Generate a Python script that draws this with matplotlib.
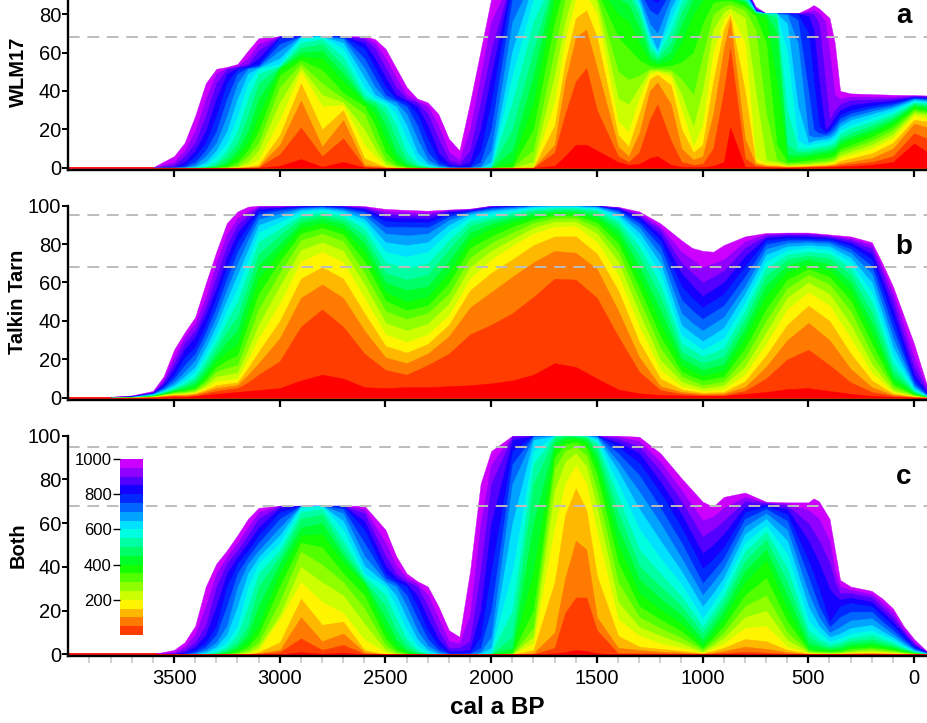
import numpy as np
import matplotlib
matplotlib.use("Agg")
import matplotlib.pyplot as plt
import colorsys

plt.rcParams['font.family'] = ['Liberation Sans', 'DejaVu Sans']

# ---------------- data ----------------
window_lengths = [0, 50, 100, 150, 200, 250, 300, 350, 400, 450, 500,
                  550, 600, 650, 700, 750, 800, 850, 900, 950, 1000]
colorbar_ticks = [200, 400, 600, 800, 1000]
x_ticks = [3500, 3000, 2500, 2000, 1500, 1000, 500, 0]
x_minor = list(range(3900, -1, -100))
y_ticks = [0, 20, 40, 60, 80, 100]
reference_lines = [68, 95]
panel_names = ["WLM17", "Talkin Tarn", "Both"]
panel_letters = ["a", "b", "c"]

# each column: probability (%) for window lengths 0..1000 a (bottom -> top)
wlm17_years = [3600, 3500, 3450, 3400, 3350, 3300, 3250, 3200, 3150, 3100, 3000, 2900,
               2800, 2700, 2600, 2550, 2500, 2450, 2400, 2350, 2300, 2250, 2200, 2150,
               2100, 2050, 2000, 1900, 1800, 1700, 1650, 1600, 1550, 1500, 1400, 1350,
               1300, 1250, 1214, 1150, 1100, 1044, 1000, 950, 900, 870, 800, 750, 700,
               650, 600, 550, 500, 475, 450, 420, 400, 375, 350, 300, 200, 100, 0, -65]
wlm17_cols = [
    [0,0,0,0,0,0,0,0,0,0,0,0,0,0,0,0,0,0,0,0,0.2],
    [0,0,0,0,0,0,0,0,0,0,0,0,0,0,0,0,0.2,0.5,1.5,3,6],
    [0,0,0,0,0,0,0,0,0,0,0,0,0,0,0.2,0.5,1.5,3,6,9,13],
    [0,0,0,0,0,0,0,0,0,0,0,0,0.2,0.5,1.5,3,6,9,13,19,27],
    [0,0,0,0,0,0,0,0,0,0,0.2,0.5,1.5,3,6,9,13,19,27,36,44],
    [0,0,0,0,0,0,0,0,0.2,0.5,1.5,3,6,9,13,19,27,36,44,49,51.5],
    [0,0,0,0,0,0,0.2,0.5,1.5,3,6,9,13,19,27,36,44,49,51.5,52,52.5],
    [0,0,0,0,0.2,0.5,1.5,3,6,9,13,19,27,36,44,49,51.5,52,52.5,53,54],
    [0,0,0.2,0.5,1.5,3,6,9,13,19,27,36,44,49,51.5,52,52.5,53,54,57,61],
    [0,0.2,0.5,1.5,4,9,13,19,27,36,44,49,51.5,52,52.5,53,54,57,61,64.5,67.5],
    [1,7,12,17,25,34,42,48,51.5,52,52.5,53,54,57,61,64.5,67.5,68.3,68.5,68.5,68.5],
    [4.5,21,35,44,50,52,54,56,58,60,62.5,65,67.5,68.3,68.5,68.5,68.5,68.5,68.5,68.5,68.5],
    [0.5,6,11,20,32,38,44,51,57,61,64.5,67,68.3,68.5,68.5,68.5,68.5,68.5,68.5,68.5,68.5],
    [3,15.3,24.8,30,32.6,34,36,39,45,49,53,57.5,62,65,67,68,68.5,68.5,68.5,68.5,68.5],
    [0.2,0.5,1.5,5,12,20,28,32,34,35,36,38,42,47,52,57,62,65,67,68,68.5],
    [0,0.3,1,2.5,6,10,15,22,28,32,34,35,36,38,42,47,52,57,62,65,67],
    [0,0,0,0.5,1,2,4,8,15,22,28,32,34,35,36,38,42,47,52,57,62],
    [0,0,0,0,0,0.5,1,2,4,8,15,22,28,32,34,35,36,38,42,47,52],
    [0,0,0,0,0,0,0,0.5,1,2,4,8,15,22,28,32,34,35,36,38,42],
    [0,0,0,0,0,0,0,0,0,0.5,1,2,4,8,15,22,28,32,34,35,36],
    [0,0,0,0,0,0,0,0,0,0,0,0.5,1,2,4,8,15,22,28,32,34],
    [0,0,0,0,0,0,0,0,0,0,0,0,0,0.5,1,2,4,8,15,22,28],
    [0,0,0,0,0,0,0,0,0,0,0,0,0,0,0,0.5,1,2,4,8,15],
    [0,0,0,0,0,0,0,0,0,0,0,0,0,0,0,0,0.5,1,2,4,9],
    [0,0,0,0,0,0,0,0,0,0,0,0,0,0,0,0.2,0.5,3,9,20,34],
    [0,0,0,0,0,0,0,0,0,0,0,0,0,0.2,0.5,3,9,20,34,48,61],
    [0,0,0,0,0,0,0,0,0,0,0,0.2,0.5,3,9,20,34,48,61,76,88],
    [0,0,0,0,0,0,0.2,0.5,3,9,20,34,48,61,76,88,96,99.5,100,100,100],
    [0,0,0,0.2,0.5,3,9,20,34,48,61,76,88,96,99.5,100,100,100,100,100,100],
    [1,8,12,22,34,48,61,76,88,96,99.5,100,100,100,100,100,100,100,100,100,100],
    [6,28,45,55,66,76,88,96,99.5,100,100,100,100,100,100,100,100,100,100,100,100],
    [12,45,68,78,88,96,99,100,100,100,100,100,100,100,100,100,100,100,100,100,100],
    [12,52,72,82,90,96,99,100,100,100,100,100,100,100,100,100,100,100,100,100,100],
    [9,30,52,68,80,86,89,92,95,97,98.5,99.5,100,100,100,100,100,100,100,100,100],
    [3,6,11,17,24,36,50,68,80,88,93,96,98,99,100,100,100,100,100,100,100],
    [1.5,3,6,11,18.7,33,46,62,76,85,90,93,95,96.5,97.5,98.5,99,99.5,100,100,100],
    [2,8,18,28,36,42,48,56,65,73,79,83,85,87,89.5,92,94.5,96.5,98,99,100],
    [5,25,40,46,49,50.5,51.5,53,55.5,58,61,64,67,70,75,82,88,92.5,96,98.5,100],
    [6,33,44.5,48.5,50,50.7,51.5,52.5,54,55.5,57,58.5,60,61,70,79.5,86,91,95,98,100],
    [1.5,14,33,43,47.5,49.5,51,53,56,60,65,71,77,83,88,92,95,97,98.5,99.5,100],
    [0.5,3,10,20,30,38,46,55,65,74,81,86,90,93,95,96.5,97.5,98.5,99,99.5,100],
    [0.3,1.5,4.2,8,11,21,38,60,80,88,92,94.5,96,97,98,98.5,99,99.5,100,100,100],
    [0.3,2,6,12,22,40,58,75,87,92,94.5,96,97,98,98.5,99,99.5,100,100,100,100],
    [1,10,28,45,60,72,80,86,90,93,95,96.5,97.5,98.3,99,99.5,100,100,100,100,100],
    [3,40,62,72,77,81,84,87,89.5,91.5,93,94.5,95.5,96.5,97.3,98,98.6,99,99.4,99.7,100],
    [21,62,77,79.5,81,83,85,87,88.5,90,91.5,93,94,95,96,96.8,97.5,98,98.5,99,99.5],
    [0.5,5,15,40,65,78,82,84,85.5,86.5,87.5,88.5,89.5,90.5,91.5,92.5,93,93.5,94,94.5,95],
    [0.3,1,2,3,5,40,72,79,80.4,80.6,80.8,81,81.2,81.4,81.6,81.8,82,82.4,82.8,83.3,84],
    [0.2,0.5,1,1.5,2.5,4,28,65,78,80,80.2,80.4,80.4,80.4,80.4,80.4,80.4,80.4,80.4,80.4,80.4],
    [0.1,0.4,0.8,1.2,2,3,4,12,45,70,78,80,80.4,80.4,80.4,80.4,80.4,80.4,80.4,80.4,80.4],
    [0,0.2,0.4,0.7,1,1.5,2.2,3,4.5,7,12,30,60,75,79.5,80.4,80.4,80.4,80.4,80.4,80.4],
    [0.1,0.3,0.5,0.8,1.2,1.7,2.4,3.3,5,6.5,8,10,14,32,65,77,80,80.4,80.4,80.4,80.4],
    [0.2,0.4,0.7,1,1.4,2,2.7,3.8,5.5,7,8.5,10,11.5,13,17,40,70,79,80.5,81.5,83],
    [0.2,0.5,0.8,1.2,1.7,2.3,3,4.2,6,7.5,9,10.5,12.5,14,16,20,45,72,80,82,84.7],
    [0.3,0.6,0.9,1.3,1.8,2.5,3.3,4.6,6.5,8,9.5,11,13,14.5,16,18,22,45,75,80.5,83],
    [0.3,0.7,1,1.5,2,2.8,3.7,5,7,8.5,10,11.5,13.5,15,16.5,17.5,18.5,19.6,45,76,80],
    [0.4,0.8,1.2,1.7,2.3,3.1,4,5.4,7.5,9,10.5,12,14,15.5,17,18.5,20,22,25,60,78],
    [0.5,1,1.5,2.2,3,3.9,4.9,6.4,8.4,10,11.8,13.5,15.5,17.5,19.5,21.5,23.5,26,30,38,65],
    [0.6,1.4,2.3,3.6,5,6.5,8.2,9.8,12,13.7,15.5,17.5,19.5,21.5,23.5,25.5,27.5,30,33,36,40],
    [0.8,1.9,3.1,4.8,6.6,8.3,10.1,11.8,14.4,16.1,17.9,20.5,22.2,24.8,26.5,28.3,30,32.6,35.2,37,38.7],
    [1.5,3,5,7.5,10,12,14,16,18,20,22,24,26,28,29.5,31,32.5,34,35.5,37,38.3],
    [3,6,10,13,15.5,17.5,19.5,21.5,23.5,25,26.5,28,29.5,31,32,33,34,35,36,37,38],
    [12.7,18,23,25,27,28.5,29.5,30.5,31.5,32.5,33.3,34,34.7,35.3,35.8,36.2,36.6,37,37.3,37.6,37.8],
    [8,15,21,24,26,27.5,28.5,29.5,30.5,31.5,32.5,33.3,34,34.7,35.3,35.8,36.2,36.6,37,37.3,37.6],
]

talkin_years = [3800, 3700, 3600, 3550, 3500, 3450, 3400, 3350, 3300, 3250, 3200, 3150,
                3100, 3000, 2900, 2800, 2700, 2600, 2500, 2400, 2300, 2200, 2100, 2000,
                1900, 1800, 1700, 1600, 1500, 1400, 1300, 1200, 1100, 1050, 1000, 950,
                900, 800, 700, 600, 500, 400, 300, 200, 150, 100, 50, 0, -65]
talkin_cols = [
    [0,0,0,0,0,0,0,0,0,0,0,0,0,0,0.1,0.1,0.2,0.2,0.3,0.4,0.5],
    [0,0,0,0,0,0,0,0.1,0.1,0.2,0.2,0.3,0.3,0.4,0.5,0.6,0.7,0.8,0.9,1.0,1.2],
    [0,0.2,0.3,0.4,0.5,0.6,0.7,0.8,0.9,1,1.2,1.4,1.6,1.8,2,2.2,2.4,2.6,2.8,3,3.5],
    [0.3,0.6,0.8,1,1.2,1.4,1.6,1.8,2,2.3,2.6,3,3.4,3.9,4.5,5.2,6,7,8,9.5,11],
    [0.5,1,1.3,1.6,1.9,2.2,2.6,3,3.4,3.8,4.3,5,5.7,6.6,8,10,12,15,18,21,25],
    [0.4,0.9,1.3,1.7,2.1,2.6,3.1,3.6,4.3,5.2,6.3,7.5,9,11,13.5,17,21,25,28.5,31.5,34],
    [0.8,1.3,1.8,2.3,2.8,3.3,4,4.8,5.7,7.5,9.2,11,13.5,16,19.6,23,26.6,31.8,35,38.7,42],
    [1.4,2.4,3.3,4.2,5.3,6.5,8,9.5,11.5,14,16.5,19.5,22.5,26,30,34,38,43,47,52,59.5],
    [2,3.5,5,6.5,8.5,11,13.5,16,19,22,25.5,29,33,37.5,42,47,52,57,63,70,76],
    [2.5,4.3,5.8,7.3,9.3,12,15.5,19.5,24,29,34.5,40,45.5,51,56.5,62,68,73,79,85,91],
    [3,5,6.5,8,10,13,17,22,28,35,42,50,57,64,70,76,81,86,90,93.5,97],
    [3.5,8,12,15.5,20,25,31,38,45,52,58.5,65.5,71.5,77,82,86,89.5,92.5,95,97,99.5],
    [4,12,18,24,31,38,46,54,62,69,75,81,86,90,93,95.5,97,98.3,99.2,99.6,100],
    [5,19,31,40,49,58,65,71,76,80,84.5,88,91.5,94,96,97.5,98.5,99,99.5,99.8,100],
    [9,37,52,62,71,77,82,85.5,88.5,91,93.3,95,96.5,97.7,98.5,99,99.5,99.7,99.9,100,100],
    [12,46,59,68,76,81,85.5,88.5,91,93.3,95,96.5,97.7,98.5,99.2,99.6,99.8,100,100,100,100],
    [10,37,52,62,70.5,76.5,81.5,85,88,90.5,92.7,94.5,96,97.2,98,98.7,99.3,99.6,99.8,100,100],
    [5.5,23,35,44,52,59,65,71,76,80.5,84.5,88,90.8,93,95,96.5,97.5,98.3,99,99.5,99.8],
    [5,14.5,21,27,33,39,45,50.5,55,60,65,70.5,76,81,85.5,89,92,94,95.7,97,98.3],
    [5.5,12,18,23.5,29,35,41,45.5,50,56,61.5,67.5,73.5,79.5,84.5,89,91.5,93.5,95,96.5,97.8],
    [5.5,17,23,28,33,38.5,44,48,52.5,58,64,70,76,81,85.5,88.7,91.3,93.2,95,96.3,97.4],
    [6,23,32,38,43,49,54,59.5,65,71,77,82,86.5,90,92.5,94.3,95.7,96.7,97.4,97.8,98],
    [6.5,33,47,56,62,68,73,78,82.5,86,89.5,92,94,95.5,96.3,97,97.4,97.7,98,98.2,98.5],
    [7.5,38,55,65,72,76.5,80.5,84,88,90.5,92.5,94.3,96,97.2,98,98.7,99.2,99.5,99.7,99.9,100],
    [9,44,63,72,79,82.5,86,89,91.5,93.5,95,96.3,97.4,98.3,99,99.5,99.8,100,100,100,100],
    [12,52.5,70.5,79.5,85.5,88.5,91,92.8,94.3,95.7,97,98,99,99.5,99.8,100,100,100,100,100,100],
    [18,62,76.5,84,89,91.7,93.4,95,96,97,98,98.8,99.4,99.7,100,100,100,100,100,100,100],
    [16,61.5,75.5,84,89.4,91.7,93.4,94.8,96,97,98,98.8,99.4,99.7,100,100,100,100,100,100,100],
    [10,52,67,75,81,85.5,88.7,91.2,93.4,95,96.7,97.7,98.4,99.1,99.5,99.8,100,100,100,100,100],
    [4.3,32,45.5,56,64,71,76,80.4,84,87.3,90,92.2,94,95.5,96.5,97.4,98,98.6,99,99.2,99.4],
    [2.3,13.5,21,29,37,44,51,57,63,68.6,73.8,78.6,82.5,86,88.7,90.8,92.5,94,95,96,97],
    [1.4,4,6,10,14.4,19.6,25.7,31.8,38.7,45.7,52.6,58.7,64.8,70,74.3,78.6,82,84.7,87.3,89,90.8],
    [1.2,2,3,4.3,6,8.3,11,13.5,17,20.5,24,28.3,32.6,37.8,44,51,58,64.8,70,76,82],
    [1.1,1.7,2.5,3.4,4.7,6.5,8.7,11,14,17.5,21,25,29,33.5,39,45.5,52,58.5,65,72,78],
    [1,1.4,2,2.6,3.5,5,6.6,9,11.5,14.5,18,21.5,25,29.5,35,41,47,53,60,68,76.5],
    [1,1.4,2.1,2.8,4,5.6,7.5,10,12.7,16,19.5,23.5,27.8,32.8,38.5,44.5,50.5,56.5,63,70,76],
    [1,1.4,2.2,3,4.5,6.5,8.5,11,14,17.5,21.5,26,31,36.5,42,48,54,60,66,72,79.5],
    [2,3.5,5.5,8.5,12,16,20.5,25.5,31,36,40.5,45,49.5,54,58,63,68.4,73.6,78,81.3,84],
    [3,10,16,22,28,34,40,46,53,58.5,63.5,67.5,71,74.5,77.5,80,82,83.3,84.4,85.2,85.8],
    [4.5,20,30,38,46,52,57,61.5,65.5,69,72,74.5,76.8,78.8,80.5,82,83.2,84.2,85,85.6,86],
    [5,25,39,48,55,60,64,67,69.5,72,74,76,78,79.5,81,82,83,84,85,85.5,86],
    [3.5,17,30,40,48,54,59,63,66.5,69.5,72.5,75,77,78.8,80.3,81.5,82.5,83.3,84,84.5,85],
    [2,8,15,23,31,38,45,50.5,55.5,60,64,67.5,70.5,73,75.5,77.5,79.3,80.7,82,83,84],
    [1,3,5.5,9,13,17.5,22.5,28,33.5,39,44.5,50,55,60,64.5,68.5,72,75,77.5,79.5,81],
    [0.7,2,3.5,5.5,8,10.5,14,17.5,21.5,25.5,30,34.5,39,43.5,48,52.5,57,61,64.5,67.5,70],
    [0.5,1,1.5,2.2,3,4,5.5,7,9,11.5,14.5,18,22,26.5,31,36,41,46,50.5,54.5,58],
    [0.2,0.6,1,1.4,1.9,2.5,3.4,4.3,5.5,7,8.8,10.8,13.2,15.8,18.6,21.8,25,29,33,38,43],
    [0,0.2,0.4,0.6,0.8,1,1.3,1.6,2,2.5,3,3.6,4.3,5.2,6.3,7.6,9.5,12,16,21,28],
    [0,0,0,0,0,0.1,0.1,0.2,0.2,0.3,0.4,0.5,0.6,0.8,1,1.3,1.7,2.2,3,4,5],
]

both_years = [3600, 3500, 3450, 3400, 3350, 3300, 3250, 3200, 3150, 3100, 3000, 2900,
              2800, 2700, 2600, 2500, 2450, 2400, 2350, 2300, 2250, 2200, 2150, 2100,
              2050, 2000, 1900, 1800, 1700, 1650, 1600, 1550, 1500, 1400, 1300, 1200,
              1100, 1000, 950, 900, 800, 700, 600, 500, 475, 450, 400, 375, 350, 300,
              200, 150, 100, 50, 0, -65]
both_cols = [
    [0,0,0,0,0,0,0,0,0,0,0,0,0,0,0,0,0,0,0,0,0.1],
    [0,0,0,0,0,0,0,0,0,0,0,0,0,0,0,0,0,0.2,0.5,1,2],
    [0,0,0,0,0,0,0,0,0,0,0,0,0,0,0,0.2,0.5,1,2,3.5,5.5],
    [0,0,0,0,0,0,0,0,0,0,0,0,0,0.2,0.5,1,2,3.5,5.5,9,13],
    [0,0,0,0,0,0,0,0,0,0,0,0.2,0.5,1,2,3.5,5.5,9,13,22,31],
    [0,0,0,0,0,0,0,0,0,0.2,0.5,1,2,3.5,5.5,9,13,22,31,37,41.5],
    [0,0,0,0,0,0,0,0.2,0.5,1,2,3.5,5.5,9,13,22,31,37,41.5,44.5,47.5],
    [0,0,0,0,0,0.2,0.5,1,2,3.5,5.5,9,13,22,31,37,41.5,44.5,47.5,51,54.5],
    [0,0,0,0.2,0.5,1,2,3.5,5.5,9,13,22,31,37,41.5,44.5,47.5,51,54.5,58,62],
    [0,0.2,0.5,1,2,3.5,5.5,9,13,22,31,37,41.5,44.5,47.5,51,54.5,58,62,65,67],
    [0,1,2,5.5,16,18,24,31,37,41.5,44.5,47.5,51,54.5,58,62,65,67,67.8,68,68],
    [1,7.3,17,25.5,33,40,47,51,54.5,58,62,65,67,67.8,68,68,68,68,68,68,68],
    [0.3,2,6,13.5,24,33,41,49,55,60,64,66.5,68,68,68,68,68,68,68,68,68],
    [0.8,4.3,9.5,15,19,27,33,37,42,45,48,52,57,61,64.5,66.5,68,68,68,68,68],
    [0,0.3,1,2,6.6,14,21,27,32,33,34,35.5,37,40.5,45,51,57,61,64.5,66.5,68],
    [0,0,0,0,1,2,4,7,11,16.5,22,27,31,32.5,33.5,35,37,40.5,45,51,57],
    [0,0,0,0,0,0.3,1,2,4,7,11,16.5,22,27,31,32.5,33.5,35,37,40.5,45],
    [0,0,0,0,0,0,0,0.3,1,2,4,7,11,16.5,22,27,31,32.5,33.5,35,37],
    [0,0,0,0,0,0,0,0,0,0.3,1,2,4,7,11,16.5,22,27,31,32.5,33.5],
    [0,0,0,0,0,0,0,0,0,0,0,0.3,1,2,4,7,11,16.5,22,27,31],
    [0,0,0,0,0,0,0,0,0,0,0,0,0,0.3,1,2,4,7,11,16.5,22],
    [0,0,0,0,0,0,0,0,0,0,0,0,0,0,0.1,0.3,0.7,1.5,3,6,11],
    [0,0,0,0,0,0,0,0,0,0,0,0,0,0,0.1,0.3,0.7,1.5,3,5,8],
    [0,0,0,0,0,0,0,0,0,0,0,0,0,0,0.2,0.4,0.8,2,6,18,38],
    [0,0,0,0,0,0,0,0,0,0,0,0,0,0.5,1,3,8,20,38,60,78],
    [0,0,0,0,0,0,0,0,0,0,0,0.5,1,3,8,20,38,60,78,87,93],
    [0,0,0,0,0,0,0,0.5,1,3,8,20,38,60,78,87,93,98,99.5,100,100],
    [0,0,0.5,2,5,8,12,20,38,60,78,87,93,98,99.5,100,100,100,100,100,100],
    [0.5,3,10,33,58,75,85,90,94,97,99,100,100,100,100,100,100,100,100,100,100],
    [1,19,35,64,78,88,93,96,98,99.3,100,100,100,100,100,100,100,100,100,100,100],
    [2,26,52,76,86.5,92,95,97,98.5,99.3,99.7,100,100,100,100,100,100,100,100,100,100],
    [1.5,26,48,66,78,86,91,94.5,97,98.5,99.3,99.8,100,100,100,100,100,100,100,100,100],
    [0.5,11,17,36,56,67,75,82,87,91,94,96.5,98,99,99.6,100,100,100,100,100,100],
    [0,0.5,3,8.5,16,24,33,42,50,58,65,72,78,84,88,92,95,97,98.5,99.5,100],
    [0,0.5,2,3.5,8.5,12.5,17,22,28,34.5,40.5,48,57.5,66.5,74.5,82,87.5,92,95,97.5,99.5],
    [0,0.4,1.2,2.5,5,8.5,12,16,20.5,25.5,31,37,44,52,60,67,74,79,84,88,92],
    [0,0.3,0.8,1.6,3,5,7.5,10.5,14,18,22,26.5,32,38,44,51,58,64,70,75,80.5],
    [0,0.1,0.3,0.5,0.8,1.2,2,2.7,4.3,6.6,9.6,12.7,16.5,21.8,27.1,32.5,39.3,46.2,53.8,61.4,69.8],
    [0.1,0.3,0.8,1.6,2.7,4,5.5,7.5,10,13,16.2,19.6,23.5,28,33,38,43.5,50,57,63,67.5],
    [0.2,0.6,1.5,3,5,7.5,10,13,16.5,20,23.5,27,31,35,39.5,44,49,55,61,67,72],
    [0.3,1.2,3.5,7,12,17,22,27,33,38,42.5,47,51,55,58.5,62,65,67.5,70,72,74],
    [0.2,0.8,2.5,6,13,20,27,35,43,48,52.5,56,59,62,64.5,66.5,67.8,68.6,69.2,69.5,69.8],
    [0,0.3,1,2,3.5,6.5,10,15,21,27,33,39.5,46,52,57,61,64,66.5,68,69,69.5],
    [0,0,0.2,0.4,0.7,1,1.4,2,2.7,5,8,11,15.7,21.8,28,35.5,43,52,60,66,69.5],
    [0,0,0.1,0.3,0.55,0.8,1.2,1.75,2.45,4.2,6.5,9,12.8,17.4,22.5,28.7,36.5,47,56,64,71.3],
    [0,0,0,0.2,0.4,0.6,1,1.5,2.2,3.5,5,7,10,13,17,22,30,42,52,62,70],
    [0,0,0,0.1,0.3,0.5,0.8,1.2,1.8,2.5,3.3,4.5,6,8,10,12.5,15,30,42,52,62],
    [0,0,0.05,0.15,0.35,0.55,0.9,1.3,1.9,2.7,3.7,5,6.6,8.7,11.2,14.7,18.5,27,33,38,48],
    [0,0,0.1,0.2,0.4,0.6,1,1.4,2,3,4.2,5.5,7.3,9.5,12.5,17,22,25,28,31,34],
    [0,0.1,0.3,0.5,0.8,1.2,1.8,2.5,3.5,4.6,6,7.5,9.5,12,15.5,19.5,23.5,26,28,29.5,31],
    [0,0.2,0.4,0.7,1.1,1.7,2.4,3.2,4.2,5.5,7,9,11,13.5,16.5,19.5,22,24,26,27.5,29],
    [0,0.15,0.3,0.55,0.9,1.4,1.9,2.6,3.4,4.4,5.6,7,8.7,10.5,12.8,15,17.5,19.5,21.5,23.5,25.5],
    [0,0.1,0.2,0.4,0.7,1.1,1.5,2,2.6,3.4,4.3,5.3,6.5,7.8,9.3,11,13,15,17,19,21],
    [0,0.05,0.1,0.2,0.35,0.55,0.8,1.1,1.5,2,2.5,3.1,3.8,4.6,5.6,6.7,8,9.4,10.5,11.8,13],
    [0,0,0.05,0.1,0.15,0.25,0.35,0.45,0.6,0.8,1,1.2,1.5,1.8,2.2,2.7,3.3,4,4.8,5.8,7],
    [0,0,0,0,0,0,0,0,0,0,0,0.1,0.2,0.3,0.4,0.5,0.6,0.7,0.8,0.9,1.0],
]

# ---------------- style ----------------
n_levels = len(window_lengths)
colors = [colorsys.hsv_to_rgb(0.8 * k / (n_levels - 1), 1.0, 1.0) for k in range(n_levels)]

W, H = 928, 723
fig = plt.figure(figsize=(W / 100, H / 100), dpi=100)

XMIN, XMAX = 4000, -100
left = 68.3 / W
width = (935.2 - 68.3) / W
rects = [
    [left, 0.7654, width, 0.2682],
    [left, 0.4473, width, 0.2682],
    [left, 0.0920, width, 0.3054],
]
datasets = [(wlm17_years, wlm17_cols), (talkin_years, talkin_cols), (both_years, both_cols)]
label_y = [72, 301.7, 545]
letter_y = [16, 247, 477]

for i, (rect, (yrs, cols)) in enumerate(zip(rects, datasets)):
    ax = fig.add_axes(rect)
    yrs = np.asarray(yrs, float)
    lev = np.asarray(cols, float).T
    ax.plot([XMIN, XMAX], [0, 0], color='red', lw=1.3, zorder=1, solid_capstyle='butt')
    for k in range(n_levels - 1, -1, -1):
        ax.fill_between(yrs, 0, lev[k], facecolor=colors[k], edgecolor=colors[k],
                        lw=0.3, zorder=2)
    for v in reference_lines:
        ax.axhline(v, color='#bdbdbd', lw=1.4, ls=(0, (6, 4)), zorder=3)
    ax.set_xlim(XMIN, XMAX)
    ax.set_ylim(-1, 100)
    for s in ['top', 'right']:
        ax.spines[s].set_visible(False)
    for s in ['left', 'bottom']:
        ax.spines[s].set_linewidth(1.7)
        ax.spines[s].set_zorder(5)
    ax.spines['left'].set_bounds(-1, 100)
    ax.set_yticks(y_ticks)
    ax.set_xticks(x_ticks)
    ax.tick_params(axis='y', length=4, width=1.4, labelsize=14.5, pad=1)
    ax.tick_params(axis='x', length=5, width=1.6, labelsize=14.5, pad=4)
    if i < 2:
        ax.set_xticklabels([])
    else:
        ax.set_xticks(x_minor, minor=True)
        ax.tick_params(axis='x', which='minor', length=5, width=1.2, color='#c8c8c8')
        ax.set_xticklabels([str(t) for t in x_ticks])
    fig.text(18 / W, 1 - label_y[i] / H, panel_names[i], rotation=90, ha='center',
             va='center', fontsize=14.5, fontweight='bold')
    fig.text(904 / W, 1 - letter_y[i] / H, panel_letters[i], ha='center', va='center',
             fontsize=20, fontweight='bold')

fig.text(497 / W, 1 - 707 / H, "cal a BP", ha='center', va='center', fontsize=17.5,
         fontweight='bold')

# colour key (window length)
cax = fig.add_axes([120 / W, (H - 635) / H, 22.7 / W, 176 / H])
for k in range(1, n_levels):
    cax.axhspan(window_lengths[k - 1], window_lengths[k], color=colors[k], lw=0)
cax.set_ylim(0, 1000)
cax.set_xlim(0, 1)
cax.set_xticks([])
cax.set_yticks(colorbar_ticks)
cax.tick_params(axis='y', length=5, width=1.0, labelsize=12, pad=1)
for s in cax.spines.values():
    s.set_visible(False)

fig.savefig("out.png", dpi=100)
